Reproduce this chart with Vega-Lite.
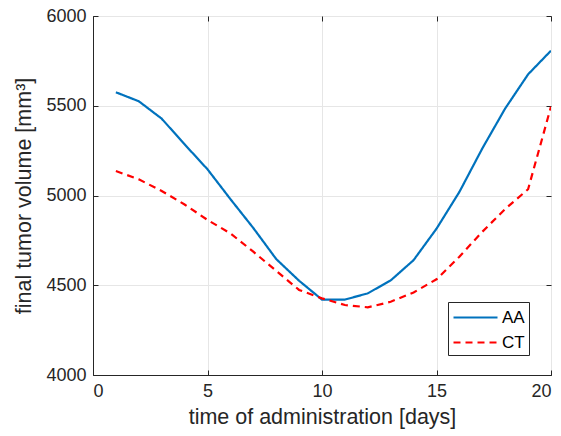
{
  "$schema": "https://vega.github.io/schema/vega-lite/v6.json",
  "width": 458,
  "height": 359,
  "autosize": {"type": "none"},
  "padding": {"left": 93, "top": 16, "right": 10, "bottom": 61},
  "background": "white",
  "config": {
    "view": {"stroke": "#262626", "strokeWidth": 1},
    "font": "Liberation Sans",
    "axis": {
      "domainColor": "#262626",
      "tickColor": "#262626",
      "gridColor": "#e6e6e6",
      "gridWidth": 1,
      "labelColor": "#262626",
      "titleColor": "#262626",
      "labelFont": "Liberation Sans",
      "titleFont": "Liberation Sans",
      "labelFontSize": 18,
      "titleFontSize": 21.5,
      "titleFontWeight": "normal",
      "tickSize": -5,
      "format": "d"
    }
  },
  "data": {
    "values": [
      {"day": 1, "volume": 5575, "method": "AA"},
      {"day": 2, "volume": 5525, "method": "AA"},
      {"day": 3, "volume": 5428, "method": "AA"},
      {"day": 4, "volume": 5285, "method": "AA"},
      {"day": 5, "volume": 5146, "method": "AA"},
      {"day": 6, "volume": 4980, "method": "AA"},
      {"day": 7, "volume": 4819, "method": "AA"},
      {"day": 8, "volume": 4646, "method": "AA"},
      {"day": 9, "volume": 4525, "method": "AA"},
      {"day": 10, "volume": 4420, "method": "AA"},
      {"day": 11, "volume": 4420, "method": "AA"},
      {"day": 12, "volume": 4455, "method": "AA"},
      {"day": 13, "volume": 4527, "method": "AA"},
      {"day": 14, "volume": 4640, "method": "AA"},
      {"day": 15, "volume": 4815, "method": "AA"},
      {"day": 16, "volume": 5020, "method": "AA"},
      {"day": 17, "volume": 5262, "method": "AA"},
      {"day": 18, "volume": 5485, "method": "AA"},
      {"day": 19, "volume": 5675, "method": "AA"},
      {"day": 20, "volume": 5807, "method": "AA"},
      {"day": 1, "volume": 5136, "method": "CT"},
      {"day": 2, "volume": 5090, "method": "CT"},
      {"day": 3, "volume": 5025, "method": "CT"},
      {"day": 4, "volume": 4950, "method": "CT"},
      {"day": 5, "volume": 4864, "method": "CT"},
      {"day": 6, "volume": 4789, "method": "CT"},
      {"day": 7, "volume": 4687, "method": "CT"},
      {"day": 8, "volume": 4580, "method": "CT"},
      {"day": 9, "volume": 4474, "method": "CT"},
      {"day": 10, "volume": 4427, "method": "CT"},
      {"day": 11, "volume": 4390, "method": "CT"},
      {"day": 12, "volume": 4377, "method": "CT"},
      {"day": 13, "volume": 4408, "method": "CT"},
      {"day": 14, "volume": 4460, "method": "CT"},
      {"day": 15, "volume": 4533, "method": "CT"},
      {"day": 16, "volume": 4659, "method": "CT"},
      {"day": 17, "volume": 4798, "method": "CT"},
      {"day": 18, "volume": 4925, "method": "CT"},
      {"day": 19, "volume": 5035, "method": "CT"},
      {"day": 20, "volume": 5495, "method": "CT"}
    ]
  },
  "resolve": {"axis": {"x": "independent", "y": "independent"}},
  "layer": [
    {
      "mark": {"type": "line", "strokeWidth": 2.2, "clip": true},
      "encoding": {
        "x": {
          "field": "day", "type": "quantitative",
          "scale": {"domain": [0, 20], "nice": false, "zero": false},
          "axis": {"orient": "bottom", "values": [0, 5, 10, 15, 20], "title": "time of administration [days]", "titlePadding": 6, "labelPadding": 12}
        },
        "y": {
          "field": "volume", "type": "quantitative",
          "scale": {"domain": [4000, 6000], "nice": false, "zero": false},
          "axis": {"orient": "left", "values": [4000, 4500, 5000, 5500, 6000], "title": "final tumor volume [mm³]", "titlePadding": 10, "labelPadding": 12}
        },
        "color": {
          "field": "method", "type": "nominal",
          "scale": {"domain": ["AA", "CT"], "range": ["#0072BD", "#FF0000"]},
          "legend": {
            "title": null,
            "orient": "none",
            "legendX": 355,
            "legendY": 286,
            "strokeColor": "#262626",
            "fillColor": "white",
            "padding": 4,
            "symbolType": "M-1,0H3.4",
            "symbolSize": 400,
            "symbolStrokeWidth": 2.2,
            "labelFontSize": 17,
            "labelColor": "#000000",
            "labelFont": "Liberation Sans",
            "rowPadding": 5,
            "labelOffset": 27
          }
        },
        "strokeDash": {
          "field": "method", "type": "nominal",
          "scale": {"domain": ["AA", "CT"], "range": [[1, 0], [7, 5]]},
          "legend": null
        }
      }
    },
    {
      "mark": {"type": "line", "opacity": 0},
      "encoding": {
        "x": {
          "field": "day", "type": "quantitative",
          "axis": {"orient": "top", "values": [0, 5, 10, 15, 20], "title": null, "labels": false, "grid": false, "domain": false}
        },
        "y": {
          "field": "volume", "type": "quantitative",
          "axis": {"orient": "right", "values": [4000, 4500, 5000, 5500, 6000], "title": null, "labels": false, "grid": false, "domain": false}
        },
        "detail": {"field": "method", "type": "nominal"}
      }
    }
  ]
}
